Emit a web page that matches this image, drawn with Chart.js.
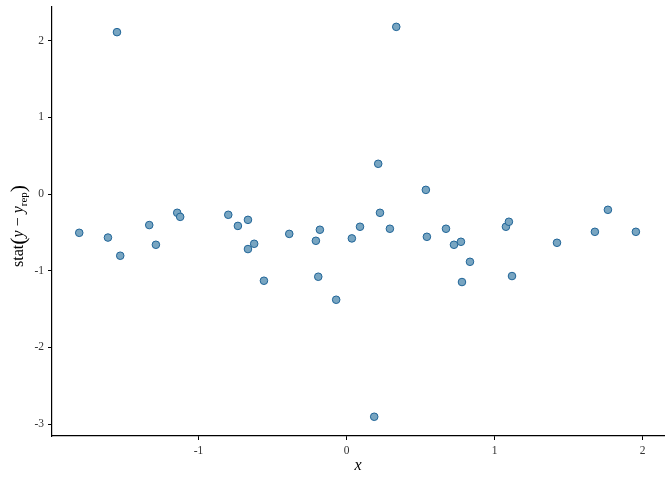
<!DOCTYPE html>
<html>
<head>
<meta charset="utf-8">
<script src="https://cdn.jsdelivr.net/npm/chart.js@4.4.1/dist/chart.umd.min.js"></script>
<style>
  html, body { margin: 0; padding: 0; background: #fff; }
  #wrap { width: 672px; height: 480px; }
</style>
</head>
<body>
<div id="wrap"><canvas id="chart"></canvas></div>
<script>
// x values and average errors
const xValues = [-1.806, -1.612, -1.551, -1.529, -1.333, -1.288, -1.144, -1.124, -0.799, -0.734,
  -0.666, -0.666, -0.624, -0.558, -0.387, -0.207, -0.180, -0.191, -0.070, 0.036,
  0.091, 0.187, 0.214, 0.226, 0.293, 0.336, 0.536, 0.543, 0.672, 0.726,
  0.773, 0.834, 0.780, 1.077, 1.097, 1.118, 1.422, 1.678, 1.766, 1.955];
const errValues = [-0.505, -0.567, 2.112, -0.804, -0.404, -0.661, -0.244, -0.297, -0.270, -0.415,
  -0.336, -0.717, -0.648, -1.130, -0.519, -0.609, -0.465, -1.078, -1.378, -0.578,
  -0.426, -2.904, 0.395, -0.244, -0.452, 2.181, 0.055, -0.557, -0.452, -0.661,
  -0.622, -0.883, -1.147, -0.426, -0.361, -1.069, -0.635, -0.492, -0.205, -0.492];
const xTicks = [-1, 0, 1, 2];
const yTicks = [-3, -2, -1, 0, 1, 2];

const points = xValues.map((x, i) => ({ x: x, y: errValues[i] }));
const serif = '"Liberation Serif", "DejaVu Serif", serif';

// axis titles, the y one has a subscript so it is drawn by hand
const axisTitles = {
  id: 'axisTitles',
  afterDraw(chart) {
    const ctx = chart.ctx;
    const area = chart.chartArea;
    ctx.save();
    ctx.fillStyle = '#000';
    ctx.textBaseline = 'alphabetic';

    ctx.font = 'italic 16px ' + serif;
    ctx.textAlign = 'center';
    ctx.fillText('x', (area.left + area.right) / 2, 470);

    ctx.translate(23, 267);
    ctx.rotate(-Math.PI / 2);
    ctx.textAlign = 'left';
    let pos = 0;
    const part = (txt, font, dy) => {
      ctx.font = font;
      ctx.fillText(txt, pos, dy || 0);
      pos += ctx.measureText(txt).width;
    };
    part('stat', '16px ' + serif);
    part('(', '22px ' + serif, 2);
    part('y', 'italic 16px ' + serif);
    part(' \u2212 ', '16px ' + serif);
    part('y', 'italic 16px ' + serif);
    part('rep', '11px ' + serif, 4);
    part(')', '22px ' + serif, 2);
    ctx.restore();
  }
};

const ctx = document.getElementById('chart').getContext('2d');
new Chart(ctx, {
  type: 'scatter',
  data: {
    datasets: [{
      data: points,
      backgroundColor: '#78a5c1',
      borderColor: '#1f6497',
      borderWidth: 1,
      pointRadius: 3.8,
      pointHoverRadius: 3.8
    }]
  },
  options: {
    responsive: true,
    maintainAspectRatio: false,
    animation: false,
    layout: { padding: { top: 7, right: 8, left: 0, bottom: 0 } },
    plugins: {
      legend: { display: false },
      tooltip: { enabled: false }
    },
    scales: {
      x: {
        type: 'linear',
        min: -1.99,
        max: 2.145,
        afterBuildTicks: scale => { scale.ticks = xTicks.map(v => ({ value: v })); },
        afterFit: scale => {
          scale.height = 44;
          scale.paddingLeft = 0;
          scale.paddingRight = 0;
        },
        grid: { display: true, drawOnChartArea: false, drawTicks: true, tickLength: 4, color: '#000' },
        border: { display: true, color: '#000', width: 1.2 },
        ticks: { color: '#333', padding: 4, font: { family: serif, size: 11.5 } }
      },
      y: {
        type: 'linear',
        min: -3.155,
        max: 2.44,
        afterBuildTicks: scale => { scale.ticks = yTicks.map(v => ({ value: v })); },
        afterFit: scale => {
          scale.width = 52;
          scale.paddingTop = 0;
          scale.paddingBottom = 0;
        },
        grid: { display: true, drawOnChartArea: false, drawTicks: true, tickLength: 4, color: '#000' },
        border: { display: true, color: '#000', width: 1.2 },
        ticks: { color: '#333', padding: 4, font: { family: serif, size: 11.5 } }
      }
    }
  },
  plugins: [axisTitles]
});
</script>
</body>
</html>
